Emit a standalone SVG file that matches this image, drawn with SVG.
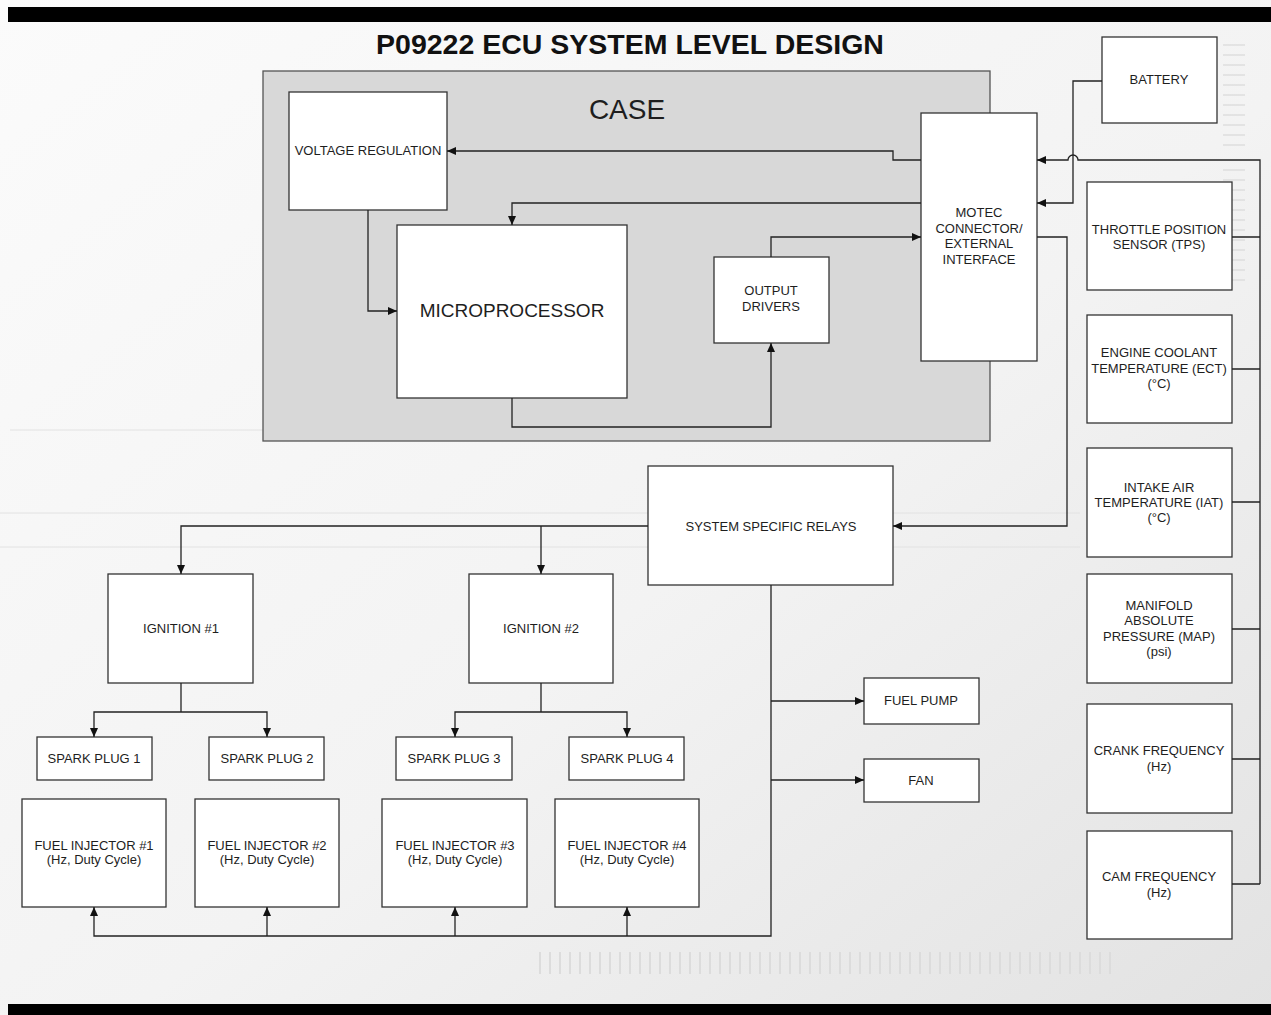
<svg xmlns="http://www.w3.org/2000/svg" width="1271" height="1015" viewBox="0 0 1271 1015">
<defs>
  <linearGradient id="bg" x1="0" y1="0" x2="1" y2="1">
    <stop offset="0" stop-color="#fbfbfb"/>
    <stop offset="0.55" stop-color="#f3f3f3"/>
    <stop offset="1" stop-color="#e2e2e2"/>
  </linearGradient>
  <marker id="ah" markerUnits="userSpaceOnUse" markerWidth="10" markerHeight="8" refX="9" refY="4" orient="auto">
    <path d="M0,0 L9,4 L0,8 z" fill="#111"/>
  </marker>
  <style>
    .box{fill:#fff;stroke:#333;stroke-width:1.3}
    .case{fill:#d8d8d8;stroke:#555;stroke-width:1.3}
    .t{font-family:"Liberation Sans",Arial,sans-serif;font-size:13px;fill:#1e1e1e;text-anchor:middle}
    .big{font-size:28px}
    .mid{font-size:19px}
    .title{font-family:"Liberation Sans",Arial,sans-serif;font-size:28.5px;font-weight:bold;fill:#111;text-anchor:middle}
    .c{fill:none;stroke:#222;stroke-width:1.3}
    .ca{fill:none;stroke:#222;stroke-width:1.3;marker-end:url(#ah)}
    .deco{fill:none;stroke:#e2e2e2;stroke-width:1}
  </style>
</defs>

<g id="background">
  <rect x="0" y="0" width="1271" height="1015" fill="url(#bg)"/>
  <line x1="0" y1="513" x2="1080" y2="513" class="deco"/>
  <line x1="0" y1="547" x2="1080" y2="547" class="deco"/>
  <line x1="10" y1="430" x2="263" y2="430" class="deco"/>
  <path d="M1223,45 H1245 M1223,55 H1245 M1223,65 H1245 M1223,75 H1245 M1223,85 H1245 M1223,95 H1245 M1223,105 H1245 M1223,115 H1245 M1223,125 H1245 M1223,135 H1245 M1223,145 H1245 M1245,170 H1223 M1245,180 H1223 M1245,190 H1223 M1245,200 H1223 M1245,210 H1223 M1245,220 H1223 M1245,230 H1223 M1245,240 H1223 M1245,250 H1223 M1245,260 H1223 M1245,270 H1223 M1245,280 H1223" stroke="#d4d4d4" stroke-width="1.2" fill="none"/>
  <path d="M540,952 V974 M550,952 V974 M560,952 V974 M570,952 V974 M580,952 V974 M590,952 V974 M600,952 V974 M610,952 V974 M620,952 V974 M630,952 V974 M640,952 V974 M650,952 V974 M660,952 V974 M670,952 V974 M680,952 V974 M690,952 V974 M700,952 V974 M710,952 V974 M720,952 V974 M730,952 V974 M740,952 V974 M750,952 V974 M760,952 V974 M770,952 V974 M780,952 V974 M790,952 V974 M800,952 V974 M810,952 V974 M820,952 V974 M830,952 V974 M840,952 V974 M850,952 V974 M860,952 V974 M870,952 V974 M880,952 V974 M890,952 V974 M900,952 V974 M910,952 V974 M920,952 V974 M930,952 V974 M940,952 V974 M950,952 V974 M960,952 V974 M970,952 V974 M980,952 V974 M990,952 V974 M1000,952 V974 M1010,952 V974 M1020,952 V974 M1030,952 V974 M1040,952 V974 M1050,952 V974 M1060,952 V974 M1070,952 V974 M1080,952 V974 M1090,952 V974 M1100,952 V974 M1110,952 V974" stroke="#dcdcdc" stroke-width="2" fill="none"/>
  <rect x="8" y="7" width="1263" height="15" fill="#000"/>
  <rect x="8" y="1004" width="1263" height="11" fill="#000"/>
</g>

<text class="title" x="630" y="54">P09222 ECU SYSTEM LEVEL DESIGN</text>

<g id="case">
  <rect class="case" x="263" y="71" width="727" height="370"/>
  <text class="t big" x="627" y="119">CASE</text>
</g>

<g id="voltage-regulation">
  <rect class="box" x="289" y="92" width="158" height="118"/>
  <text class="t" x="368" y="155">VOLTAGE REGULATION</text>
</g>

<g id="microprocessor">
  <rect class="box" x="397" y="225" width="230" height="173"/>
  <text class="t mid" x="512" y="317">MICROPROCESSOR</text>
</g>

<g id="output-drivers">
  <rect class="box" x="714" y="257" width="115" height="86"/>
  <text class="t" x="771" y="295">OUTPUT</text>
  <text class="t" x="771" y="311">DRIVERS</text>
</g>

<g id="motec">
  <rect class="box" x="921" y="113" width="116" height="248"/>
  <text class="t" x="979" y="217">MOTEC</text>
  <text class="t" x="979" y="233">CONNECTOR/</text>
  <text class="t" x="979" y="248">EXTERNAL</text>
  <text class="t" x="979" y="264">INTERFACE</text>
</g>

<g id="battery">
  <rect class="box" x="1102" y="37" width="115" height="86"/>
  <text class="t" x="1159" y="84">BATTERY</text>
</g>

<g id="tps">
  <rect class="box" x="1087" y="182" width="145" height="108"/>
  <text class="t" x="1159" y="234">THROTTLE POSITION</text>
  <text class="t" x="1159" y="249">SENSOR (TPS)</text>
</g>

<g id="ect">
  <rect class="box" x="1087" y="315" width="145" height="108"/>
  <text class="t" x="1159" y="357">ENGINE COOLANT</text>
  <text class="t" x="1159" y="373">TEMPERATURE (ECT)</text>
  <text class="t" x="1159" y="388">(°C)</text>
</g>

<g id="iat">
  <rect class="box" x="1087" y="448" width="145" height="109"/>
  <text class="t" x="1159" y="492">INTAKE AIR</text>
  <text class="t" x="1159" y="507">TEMPERATURE (IAT)</text>
  <text class="t" x="1159" y="522">(°C)</text>
</g>

<g id="map">
  <rect class="box" x="1087" y="574" width="145" height="109"/>
  <text class="t" x="1159" y="610">MANIFOLD</text>
  <text class="t" x="1159" y="625">ABSOLUTE</text>
  <text class="t" x="1159" y="641">PRESSURE (MAP)</text>
  <text class="t" x="1159" y="656">(psi)</text>
</g>

<g id="crank">
  <rect class="box" x="1087" y="704" width="145" height="109"/>
  <text class="t" x="1159" y="755">CRANK FREQUENCY</text>
  <text class="t" x="1159" y="771">(Hz)</text>
</g>

<g id="cam">
  <rect class="box" x="1087" y="831" width="145" height="108"/>
  <text class="t" x="1159" y="881">CAM FREQUENCY</text>
  <text class="t" x="1159" y="897">(Hz)</text>
</g>

<g id="relays">
  <rect class="box" x="648" y="466" width="245" height="119"/>
  <text class="t" x="771" y="531">SYSTEM SPECIFIC RELAYS</text>
</g>

<g id="ignition1">
  <rect class="box" x="108" y="574" width="145" height="109"/>
  <text class="t" x="181" y="633">IGNITION #1</text>
</g>

<g id="ignition2">
  <rect class="box" x="469" y="574" width="144" height="109"/>
  <text class="t" x="541" y="633">IGNITION #2</text>
</g>

<g id="spark1">
  <rect class="box" x="37" y="737" width="115" height="43"/>
  <text class="t" x="94" y="763">SPARK PLUG 1</text>
</g>
<g id="spark2">
  <rect class="box" x="209" y="737" width="115" height="43"/>
  <text class="t" x="267" y="763">SPARK PLUG 2</text>
</g>
<g id="spark3">
  <rect class="box" x="396" y="737" width="116" height="43"/>
  <text class="t" x="454" y="763">SPARK PLUG 3</text>
</g>
<g id="spark4">
  <rect class="box" x="569" y="737" width="115" height="43"/>
  <text class="t" x="627" y="763">SPARK PLUG 4</text>
</g>

<g id="injector1">
  <rect class="box" x="22" y="799" width="144" height="108"/>
  <text class="t" x="94" y="850">FUEL INJECTOR #1</text>
  <text class="t" x="94" y="864">(Hz, Duty Cycle)</text>
</g>
<g id="injector2">
  <rect class="box" x="195" y="799" width="144" height="108"/>
  <text class="t" x="267" y="850">FUEL INJECTOR #2</text>
  <text class="t" x="267" y="864">(Hz, Duty Cycle)</text>
</g>
<g id="injector3">
  <rect class="box" x="382" y="799" width="145" height="108"/>
  <text class="t" x="455" y="850">FUEL INJECTOR #3</text>
  <text class="t" x="455" y="864">(Hz, Duty Cycle)</text>
</g>
<g id="injector4">
  <rect class="box" x="555" y="799" width="144" height="108"/>
  <text class="t" x="627" y="850">FUEL INJECTOR #4</text>
  <text class="t" x="627" y="864">(Hz, Duty Cycle)</text>
</g>

<g id="fuel-pump">
  <rect class="box" x="864" y="678" width="115" height="46"/>
  <text class="t" x="921" y="705">FUEL PUMP</text>
</g>
<g id="fan">
  <rect class="box" x="864" y="759" width="115" height="43"/>
  <text class="t" x="921" y="785">FAN</text>
</g>

<g id="connectors">
  <path class="ca" d="M921,160 H893 V151 H447"/>
  <path class="ca" d="M921,203 H512 V225"/>
  <path class="ca" d="M368,210 V311 H397"/>
  <path class="ca" d="M512,398 V427 H771 V343"/>
  <path class="ca" d="M771,257 V237 H921"/>
  <path class="ca" d="M1102,81 H1073 V203 H1037"/>
  <path class="ca" d="M1260,884 V160 H1078 A5,5 0 0 0 1068,160 H1037"/>
  <path class="c" d="M1232,237 H1260 M1232,369 H1260 M1232,502 H1260 M1232,629 H1260 M1232,759 H1260 M1232,884 H1260"/>
  <path class="ca" d="M1037,237 H1067 V526 H893"/>
  <path class="ca" d="M648,526 H181 V574"/>
  <path class="ca" d="M541,526 V574"/>
  <path class="c" d="M181,683 V712"/>
  <path class="ca" d="M181,712 H94 V737"/>
  <path class="ca" d="M181,712 H267 V737"/>
  <path class="c" d="M541,683 V712"/>
  <path class="ca" d="M541,712 H455 V737"/>
  <path class="ca" d="M541,712 H627 V737"/>
  <path class="ca" d="M771,585 V936 H94 V907"/>
  <path class="ca" d="M267,936 V907"/>
  <path class="ca" d="M455,936 V907"/>
  <path class="ca" d="M627,936 V907"/>
  <path class="ca" d="M771,701 H864"/>
  <path class="ca" d="M771,780 H864"/>
</g>
</svg>
